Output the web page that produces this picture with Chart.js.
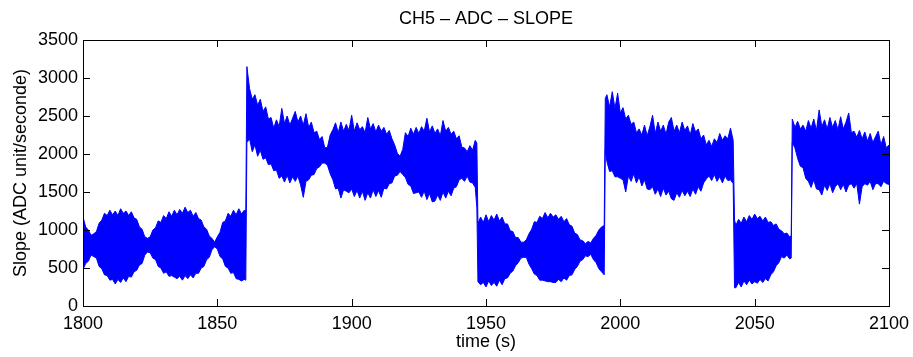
<!DOCTYPE html>
<html>
<head>
<meta charset="utf-8">
<script src="https://cdn.jsdelivr.net/npm/chart.js@4.4.1/dist/chart.umd.min.js"></script>
<style>
  html, body { margin: 0; padding: 0; background: #ffffff; }
  #wrap { width: 913px; height: 357px; }
</style>
</head>
<body>
<div id="wrap"><canvas id="c" width="913" height="357"></canvas></div>
<script>
// ---- data (envelope of the dense signal, 1 s steps) ----
const chartTitle = 'CH5 \u2013 ADC \u2013 SLOPE';
const xTitle = 'time (s)';
const yTitle = 'Slope (ADC unit/seconde)';
const xTicks = [1800, 1850, 1900, 1950, 2000, 2050, 2100];
const yTicks = [0, 500, 1000, 1500, 2000, 2500, 3000, 3500];
const startTime = 1800; // first sample, then one value per second

const upperEnvelope = [
  1170,1040,1000,930,950,980,1090,1130,1220,1190,
  1260,1200,1250,1190,1280,1220,1250,1190,1240,1160,
  1140,1040,1010,910,890,910,1000,1030,1120,1100,
  1190,1150,1240,1180,1260,1200,1270,1220,1300,1230,
  1260,1180,1230,1150,1130,1040,1010,920,890,840,
  910,970,1100,1120,1220,1180,1260,1200,1280,1210,
  1260,3150,2860,2720,2780,2640,2720,2560,2620,2460,
  2480,2340,2450,2360,2600,2400,2500,2380,2470,2560,
  2420,2500,2380,2530,2350,2420,2280,2300,2190,2230,
  2080,2090,2250,2320,2410,2280,2420,2300,2390,2310,
  2510,2300,2410,2320,2360,2280,2480,2330,2400,2290,
  2380,2300,2350,2260,2310,2200,2120,2010,1970,2060,
  2280,2230,2340,2260,2350,2270,2360,2300,2470,2290,
  2370,2270,2330,2240,2440,2300,2350,2260,2300,2200,
  2240,2090,2080,2030,2110,2050,2180,1090,1170,1100,
  1200,1110,1190,1130,1210,1120,1170,1080,1080,990,
  980,900,900,840,840,870,950,1010,1110,1100,
  1180,1150,1230,1160,1220,1170,1200,1140,1180,1110,
  1150,1070,1050,960,940,870,860,820,850,830,
  890,930,1000,1040,1060,2780,2620,2820,2600,2800,
  2540,2610,2460,2510,2390,2420,2280,2330,2250,2380,
  2240,2360,2510,2270,2420,2300,2380,2260,2420,2480,
  2300,2380,2280,2420,2310,2370,2250,2400,2290,2330,
  2200,2250,2120,2180,2100,2200,2150,2270,2180,2240,
  2200,2340,2180,1060,1140,1090,1170,1110,1190,1140,
  1210,1150,1180,1120,1170,1100,1110,1060,1080,1010,
  990,950,960,910,2460,2350,2430,2330,2380,2300,
  2440,2340,2460,2310,2580,2360,2450,2330,2480,2350,
  2440,2320,2490,2330,2420,2540,2280,2300,2220,2310,
  2200,2290,2170,2270,2150,2230,2300,2120,2230,2080,
  2120
];

const lowerEnvelope = [
  480,560,590,670,650,630,520,490,410,400,
  340,350,290,350,310,370,320,390,380,450,
  470,540,560,670,710,700,630,610,520,500,
  430,450,390,400,380,360,390,340,400,360,
  410,370,430,430,500,520,610,640,740,780,
  750,650,620,520,500,430,440,360,350,330,
  350,2150,2200,2030,2120,1970,2050,1930,1950,1860,
  1870,1780,1790,1680,1710,1630,1720,1620,1700,1640,
  1710,1590,1430,1640,1660,1720,1730,1810,1830,1880,
  1880,1850,1740,1660,1540,1550,1420,1530,1510,1490,
  1540,1440,1520,1420,1510,1390,1490,1420,1530,1440,
  1520,1430,1550,1540,1610,1620,1710,1720,1770,1730,
  1690,1600,1580,1480,1490,1500,1430,1510,1400,1480,
  1370,1380,1460,1390,1500,1420,1510,1450,1550,1570,
  1660,1680,1640,1710,1630,1620,1560,320,280,310,
  250,330,270,310,260,340,280,360,370,430,
  460,530,570,630,640,640,550,490,420,400,
  340,340,330,320,320,310,310,350,320,370,
  340,400,410,480,520,590,610,660,650,680,
  610,570,490,450,410,1900,1770,1780,1700,1700,
  1680,1660,1500,1710,1640,1740,1620,1700,1580,1660,
  1540,1530,1570,1470,1540,1440,1550,1460,1510,1410,
  1390,1490,1430,1520,1450,1510,1440,1540,1470,1570,
  1510,1620,1670,1710,1650,1730,1640,1700,1620,1710,
  1650,1660,1610,240,310,250,330,280,340,290,
  320,300,350,310,360,330,410,450,530,570,
  650,630,670,620,2150,2080,1940,1840,1820,1680,
  1640,1560,1660,1540,1530,1460,1590,1520,1610,1490,
  1570,1610,1530,1600,1500,1590,1610,1550,1610,1340,
  1570,1610,1590,1640,1530,1610,1610,1570,1640,1610,
  1600
];

// extra samples right at the level switches (so the jumps stay vertical)
const switchTimes = [1860.6, 1946.6, 1994.4, 2042.5, 2063.6];
const switchUpper = [1250, 2140, 2730, 1130, 920];
const switchLower = [340, 1290, 2050, 240, 630];

// ---- build point lists ----
function buildSeries(values, extraY) {
  const pts = values.map((v, i) => ({ x: startTime + i, y: v }));
  switchTimes.forEach((t, k) => pts.push({ x: t, y: extraY[k] }));
  pts.sort((a, b) => a.x - b.x);
  return pts;
}
const lowerPts = buildSeries(lowerEnvelope, switchLower);
const upperPts = buildSeries(upperEnvelope, switchUpper);

const FONT = "'Liberation Sans', Arial, Helvetica, sans-serif";
const FS = 18;
const BLUE = '#0000ff';

const boxTicks = {
  id: 'boxTicks',
  afterDraw(chart) {
    const { ctx, chartArea: a, scales } = chart;
    const len = 7;
    ctx.save();
    ctx.strokeStyle = '#000';
    ctx.lineWidth = 1;
    ctx.beginPath();
    xTicks.forEach(v => {
      const x = Math.round(scales.x.getPixelForValue(v)) + 0.5;
      ctx.moveTo(x, a.bottom); ctx.lineTo(x, a.bottom - len);
      ctx.moveTo(x, a.top); ctx.lineTo(x, a.top + len);
    });
    yTicks.forEach(v => {
      const y = Math.round(scales.y.getPixelForValue(v)) + 0.5;
      ctx.moveTo(a.left, y); ctx.lineTo(a.left + len, y);
      ctx.moveTo(a.right, y); ctx.lineTo(a.right - len, y);
    });
    ctx.stroke();
    ctx.strokeRect(Math.round(a.left) + 0.5, Math.round(a.top) + 0.5,
                   Math.round(a.right - a.left), Math.round(a.bottom - a.top));
    ctx.restore();
  }
};

new Chart(document.getElementById('c'), {
  type: 'line',
  data: {
    datasets: [
      { label: 'lower', data: lowerPts, borderColor: BLUE, backgroundColor: BLUE,
        borderWidth: 1, pointRadius: 0, tension: 0, fill: false },
      { label: 'upper', data: upperPts, borderColor: BLUE, backgroundColor: BLUE,
        borderWidth: 1, pointRadius: 0, tension: 0, fill: '-1' }
    ]
  },
  options: {
    responsive: false,
    animation: false,
    devicePixelRatio: 1,
    layout: { padding: { left: 0, right: 24, top: 0, bottom: 0 } },
    plugins: {
      legend: { display: false },
      tooltip: { enabled: false },
      title: {
        display: true, text: chartTitle, fullSize: false, color: '#000',
        font: { family: FONT, size: FS, weight: 'normal' },
        padding: { top: 8.5, bottom: 9.9 }
      }
    },
    scales: {
      x: {
        type: 'linear', min: 1800, max: 2100,
        grid: { display: false, drawTicks: false },
        border: { display: false },
        afterBuildTicks(scale) { scale.ticks = xTicks.map(v => ({ value: v })); },
        afterFit(scale) { scale.height = 51; scale.paddingLeft = 0; scale.paddingRight = 0; },
        ticks: { color: '#000', padding: 7, maxRotation: 0, callback: v => String(v),
                 font: { family: FONT, size: FS } },
        title: { display: true, text: xTitle, color: '#000',
                 font: { family: FONT, size: FS }, padding: { top: 0, bottom: 3.8 } }
      },
      y: {
        min: 0, max: 3500,
        grid: { display: false, drawTicks: false },
        border: { display: false },
        afterBuildTicks(scale) { scale.ticks = yTicks.map(v => ({ value: v })); },
        afterFit(scale) { scale.width = 83; scale.paddingTop = 0; scale.paddingBottom = 0; },
        ticks: { color: '#000', padding: 5, callback: v => String(v),
                 font: { family: FONT, size: FS } },
        title: { display: true, text: yTitle, color: '#000',
                 font: { family: FONT, size: FS }, padding: { top: 10.3, bottom: 0 } }
      }
    }
  },
  plugins: [boxTicks]
});
</script>
</body>
</html>
